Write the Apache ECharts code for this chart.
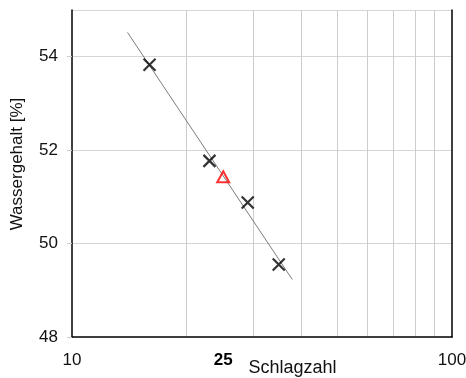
<!DOCTYPE html>
<html>
<head>
<meta charset="utf-8">
<script src="https://cdn.jsdelivr.net/npm/echarts@6/dist/echarts.min.js"></script>
<style>
  html, body { margin: 0; padding: 0; background: #fff; }
  #chart { width: 466px; height: 378px; }
</style>
</head>
<body>
<div id="chart"></div>
<script>
// Fließgrenze nach Casagrande: Wassergehalt über Schlagzahl (log)
const blowCounts = [16, 23, 29, 35];
const waterContents = [53.83, 51.77, 50.88, 49.55];

// Fließgrenze bei 25 Schlägen
const liquidLimitBlows = [25];
const liquidLimitWater = [51.43];

// Ausgleichsgerade (Endpunkte)
const fitLineBlows = [14, 38];
const fitLineWater = [54.52, 49.23];

// Achsen
const xGridValues = [10, 20, 30, 40, 50, 60, 70, 80, 90, 100];
const xLabelValues = [10, 25, 100];
const yMin = 48, yMax = 55, yStep = 2;

const FONT = '"Liberation Sans", Arial, sans-serif';

const chart = echarts.init(document.getElementById('chart'), null, { renderer: 'canvas' });

chart.setOption({
  animation: false,
  grid: {
    left: 72, right: 14, top: 10, bottom: 41,
    containLabel: false, outerBoundsMode: 'none'
  },
  xAxis: {
    type: 'log',
    logBase: 10,
    min: 10,
    max: 100,
    name: 'Schlagzahl',
    nameLocation: 'middle',
    nameGap: 22,
    nameMoveOverlap: false,
    nameTextStyle: { fontFamily: FONT, fontSize: 18, color: '#111', padding: [0, 0, 0, 61] },
    axisLine: { show: true, lineStyle: { color: '#000', width: 1.5 } },
    axisTick: { show: false, customValues: xGridValues },
    axisLabel: {
      customValues: xLabelValues,
      margin: 15,
      fontFamily: FONT,
      fontSize: 17,
      color: '#111',
      formatter: v => (v === 25 ? '{b|25}' : String(v)),
      rich: { b: { fontFamily: FONT, fontSize: 17, fontWeight: 'bold', color: '#000' } }
    },
    splitLine: { show: true, showMinLine: false, showMaxLine: false, lineStyle: { color: '#cdcdcd', width: 1 } }
  },
  yAxis: [
    {
      type: 'value',
      min: yMin,
      max: yMax,
      interval: yStep,
      name: 'Wassergehalt [%]',
      nameLocation: 'middle',
      nameGap: 46,
      nameMoveOverlap: false,
      nameTextStyle: { fontFamily: FONT, fontSize: 17, color: '#111', padding: [0, 0, 0, 19] },
      axisLine: { show: true, lineStyle: { color: '#000', width: 1.5 } },
      axisTick: { show: true, length: 5, lineStyle: { color: '#ccc' } },
      axisLabel: { margin: 14, fontFamily: FONT, fontSize: 17, color: '#111', showMaxLabel: false },
      // the line at the maximum forms the light upper edge of the plot
      splitLine: { show: true, showMinLine: false, showMaxLine: true, lineStyle: { color: '#d6d6d6', width: 1 } }
    },
    {
      type: 'value',
      position: 'right',
      min: yMin,
      max: yMax,
      interval: yStep,
      axisLine: { show: true, lineStyle: { color: '#000', width: 1.5 } },
      axisTick: { show: false },
      axisLabel: { show: false },
      splitLine: { show: false }
    }
  ],
  series: [
    {
      name: 'Ausgleichsgerade',
      type: 'line',
      data: fitLineBlows.map((x, i) => [x, fitLineWater[i]]),
      showSymbol: false,
      symbol: 'none',
      lineStyle: { color: '#7a7a7a', width: 1 },
      z: 3
    },
    {
      name: 'Versuche',
      type: 'scatter',
      data: blowCounts.map((x, i) => [x, waterContents[i]]),
      symbol: 'path://M0,0L10,10M0,10L10,0',
      symbolSize: 12,
      itemStyle: { color: 'rgba(0,0,0,0)', borderColor: '#000', borderWidth: 2.2 },
      z: 4
    },
    {
      name: 'Fließgrenze',
      type: 'scatter',
      data: liquidLimitBlows.map((x, i) => [x, liquidLimitWater[i]]),
      symbol: 'triangle',
      symbolSize: [12, 11],
      itemStyle: { color: 'rgba(0,0,0,0)', borderColor: '#ff0000', borderWidth: 2 },
      z: 5
    }
  ]
});
</script>
</body>
</html>
